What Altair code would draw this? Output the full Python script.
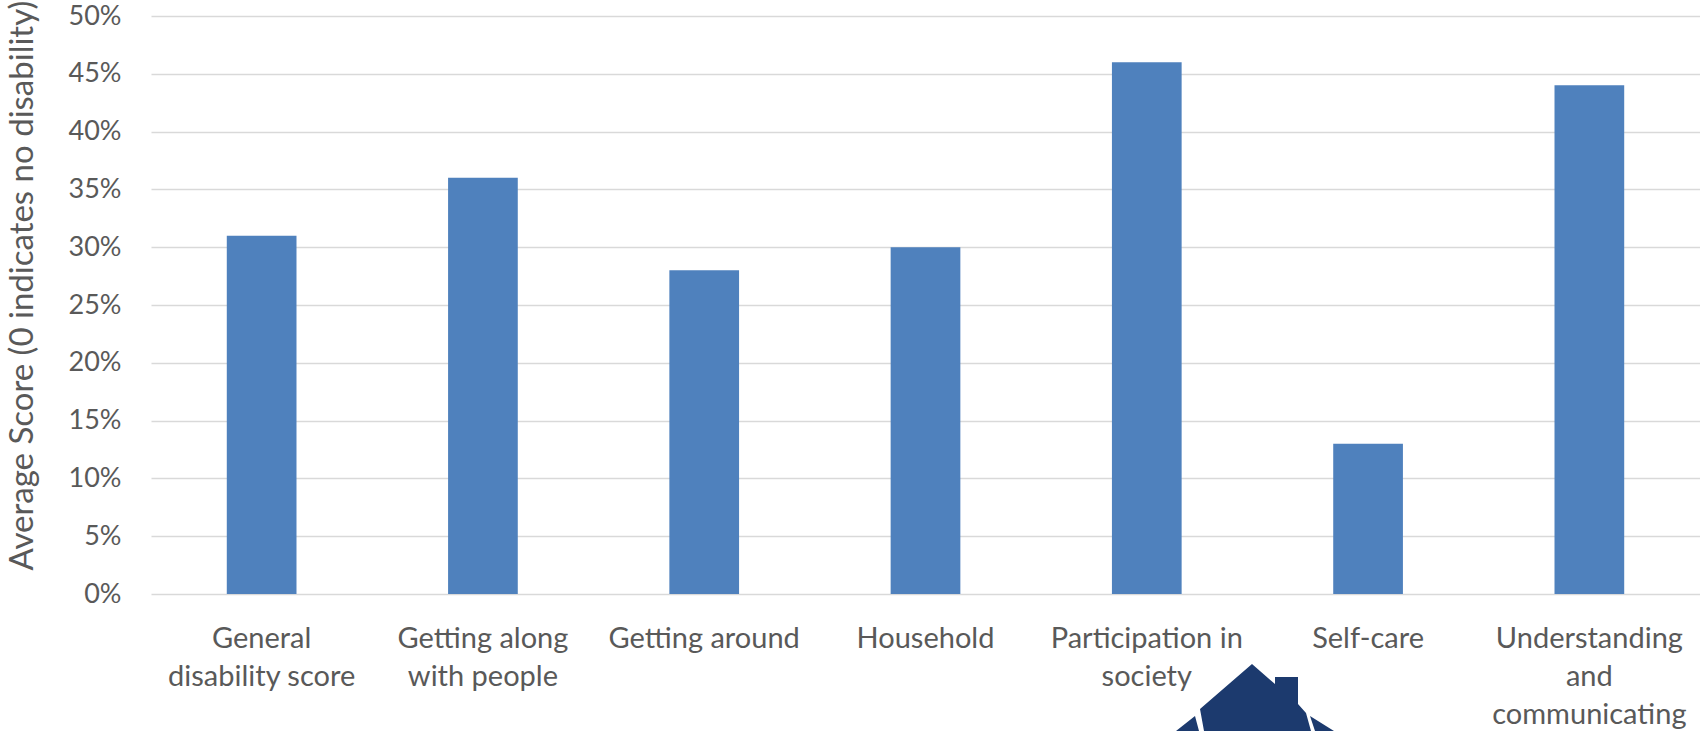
import altair as alt
import pandas as pd

# Domain labels (line breaks mark where each axis label wraps)
categories = [
    "General\ndisability score",
    "Getting along\nwith people",
    "Getting around",
    "Household",
    "Participation in\nsociety",
    "Self-care",
    "Understanding\nand\ncommunicating",
]
# Average score per domain, as a fraction (0 = no disability)
scores = [0.31, 0.36, 0.28, 0.30, 0.46, 0.13, 0.44]
y_ticks = [0, 0.05, 0.10, 0.15, 0.20, 0.25, 0.30, 0.35, 0.40, 0.45, 0.50]

df = pd.DataFrame({"domain": categories, "score": scores})

FONT = "Lato"
GREY = "#595959"

bars = alt.Chart(df).mark_bar(color="#4F81BD").encode(
    x=alt.X(
        "domain:N",
        sort=None,
        title=None,
        scale=alt.Scale(paddingInner=0.685, paddingOuter=0.3425),
        axis=alt.Axis(
            labelAngle=0,
            labelExpr="split(datum.label, '\\n')",
            labelFont=FONT,
            labelFontSize=29,
            labelColor=GREY,
            labelLineHeight=38,
            labelPadding=30,
            labelBaseline="top",
            domain=False,
            ticks=False,
            labelLimit=400,
        ),
    ),
    y=alt.Y(
        "score:Q",
        scale=alt.Scale(domain=[0, 0.5], nice=False),
        title="Average Score (0 indicates no disability)",
        axis=alt.Axis(
            values=y_ticks,
            format=".0%",
            labelFont=FONT,
            labelFontSize=27,
            labelColor=GREY,
            labelPadding=30,
            domain=False,
            ticks=False,
            gridColor="#D9D9D9",
            gridWidth=1.6,
            titleFont=FONT,
            titleFontSize=33,
            titleFontWeight="normal",
            titleColor=GREY,
            titleAngle=-90,
            titleAlign="left",
            titleBaseline="alphabetic",
            titleX=-119,
            titleY=554,
        ),
    ),
)

# House emblem partly visible along the bottom edge
house_path = (
    "M -0.0375 -0.4125 L 0.25 -0.1625 L 0.25 -0.25 L 0.5375 -0.25 L 0.5375 0.0875 "
    "L 0.6375 0.2 L 0.7 0.425 L -0.6375 0.425 L -0.6875 0.15 Z "
    "M -0.75 0.2375 L -0.7 0.425 L -0.9875 0.425 Z "
    "M 0.6875 0.2375 L 0.9875 0.425 L 0.75 0.425 Z"
)
emblem = alt.Chart(alt.Data(values=[{"k": 1}])).mark_point(
    shape=house_path, filled=True, fill="#1C3A6E", strokeWidth=0, opacity=1, size=25600
).encode(x=alt.value(1104), y=alt.value(681))

chart = (
    alt.layer(bars, emblem)
    .properties(
        width=1549,
        height=578,
        autosize=alt.AutoSizeParams(type="none"),
        padding={"left": 151, "top": 16, "right": 0, "bottom": 137},
        background="white",
    )
    .configure_view(stroke=None)
)

chart.save("out.html", embed_options={"renderer": "svg", "actions": False})
